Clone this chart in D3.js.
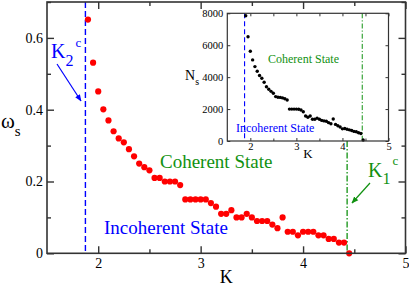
<!DOCTYPE html>
<html><head><meta charset="utf-8">
<script src="https://cdn.jsdelivr.net/npm/d3@7"></script>
<style>html,body{margin:0;padding:0;background:#fff;}svg{display:block;}</style>
</head><body>
<script>
// ---- data ----
const K = [1.90,1.95,2.00,2.05,2.10,2.15,2.20,2.25,2.30,2.35,2.40,2.45,2.50,2.55,2.60,2.65,2.70,2.75,2.80,2.85,2.90,2.95,3.00,3.05,3.10,3.15,3.20,3.25,3.30,3.35,3.40,3.45,3.50,3.55,3.60,3.65,3.70,3.75,3.80,3.85,3.90,3.95,4.00,4.05,4.10,4.15,4.20,4.25,4.30,4.35,4.40,4.45];
const omega = [0.651,0.531,0.451,0.401,0.370,0.340,0.320,0.309,0.290,0.270,0.250,0.240,0.231,0.210,0.210,0.200,0.200,0.200,0.190,0.150,0.150,0.150,0.150,0.150,0.140,0.130,0.110,0.110,0.120,0.100,0.100,0.110,0.100,0.090,0.090,0.090,0.080,0.070,0.100,0.060,0.060,0.050,0.060,0.060,0.060,0.050,0.050,0.040,0.040,0.030,0.030,0.000];
const Ns = [7850,6530,5620,5080,4660,4370,4100,3930,3680,3400,3240,3110,2990,2780,2740,2730,2700,2650,2570,2000,2000,2000,2000,1990,1940,1835,1565,1485,1565,1360,1360,1430,1360,1290,1260,1240,1150,1080,1380,1040,960,880,760,780,740,700,660,600,580,520,470,60];
const K2c = 1.875, K1c = 4.43;
const xMajor = [2,3,4,5], xMinor = [2.5,3.5,4.5];
const yMajor = [0,0.2,0.4,0.6], yMinor = [0.1,0.3,0.5,0.7];
const insetXMajor = [2,3,4,5], insetXMinor = [2.5,3.5,4.5];
const insetYMajor = [0,2000,4000,6000,8000];

const W = 409, H = 286;
const serif = "'Liberation Serif','DejaVu Serif',serif";
const RED = "#ff0000", BLUE = "#0000ff", GREEN = "#119111", FRAME = "#333";

const svg = d3.select("body").append("svg").attr("width", W).attr("height", H);
svg.append("rect").attr("width", W).attr("height", H).attr("fill", "#fff");
const defs = svg.append("defs");
function marker(id, col){
  defs.append("marker").attr("id", id).attr("viewBox","0 0 10 10").attr("refX",9).attr("refY",5)
    .attr("markerWidth",7).attr("markerHeight",7).attr("orient","auto").attr("markerUnits","userSpaceOnUse")
    .append("path").attr("d","M0,1L10,5L0,9Z").attr("fill", col);
}
marker("arB", BLUE); marker("arG", GREEN);

// ---- main plot ----
const x = d3.scaleLinear().domain([1.5,5]).range([47,405.5]);
const y = d3.scaleLinear().domain([0,0.7]).range([253.3,2]);

function styleAxis(g, fs){
  g.select(".domain").remove();
  g.selectAll("line").attr("stroke", FRAME).attr("stroke-width", 1.4);
  g.selectAll("text").attr("font-family", serif).attr("font-size", fs).attr("fill", "#000");
}
const y0 = y(0), y1 = y(0.7), x0 = x(1.5), x1 = x(5);
svg.append("g").attr("transform",`translate(0,${y0})`).call(d3.axisBottom(x).tickValues(xMajor).tickSize(-7).tickPadding(5).tickFormat(d3.format("d"))).call(g=>styleAxis(g,14));
svg.append("g").attr("transform",`translate(0,${y0})`).call(d3.axisBottom(x).tickValues(xMinor).tickSize(-4).tickFormat("")).call(g=>styleAxis(g,14));
svg.append("g").attr("transform",`translate(0,${y1})`).call(d3.axisTop(x).tickValues(xMajor).tickSize(-7).tickFormat("")).call(g=>styleAxis(g,14));
svg.append("g").attr("transform",`translate(0,${y1})`).call(d3.axisTop(x).tickValues(xMinor).tickSize(-4).tickFormat("")).call(g=>styleAxis(g,14));
svg.append("g").attr("transform",`translate(${x0},0)`).call(d3.axisLeft(y).tickValues(yMajor).tickSize(-7).tickPadding(4).tickFormat(d=>d===0?"0":d3.format(".1f")(d))).call(g=>styleAxis(g,14));
svg.append("g").attr("transform",`translate(${x0},0)`).call(d3.axisLeft(y).tickValues(yMinor).tickSize(-4).tickFormat("")).call(g=>styleAxis(g,14));
svg.append("g").attr("transform",`translate(${x1},0)`).call(d3.axisRight(y).tickValues(yMajor).tickSize(-7).tickFormat("")).call(g=>styleAxis(g,14));
svg.append("g").attr("transform",`translate(${x1},0)`).call(d3.axisRight(y).tickValues(yMinor).tickSize(-4).tickFormat("")).call(g=>styleAxis(g,14));

// ---- inset scales (needed for clipping the main green line) ----
const ix = d3.scaleLinear().domain([1.5,5]).range([227.3,388.5]);
const iy = d3.scaleLinear().domain([0,8000]).range([141,13.3]);
const iy0 = iy(0), iy1 = iy(8000), ix0 = ix(1.5), ix1 = ix(5);

// critical lines
svg.append("line").attr("x1",x(K2c)).attr("x2",x(K2c)).attr("y1",y1).attr("y2",y0)
  .attr("stroke",BLUE).attr("stroke-width",1.4).attr("stroke-dasharray","6,3");
svg.append("line").attr("x1",x(K1c)).attr("x2",x(K1c)).attr("y1",iy0).attr("y2",y0)
  .attr("stroke",GREEN).attr("stroke-width",1.3).attr("stroke-dasharray","6,2,1.5,2");

// points
svg.append("g").selectAll("circle").data(K).join("circle")
  .attr("cx",(d)=>x(d)).attr("cy",(d,i)=>y(omega[i])).attr("r",3.1).attr("fill",RED);

svg.append("rect").attr("x",x0).attr("y",y1).attr("width",x1-x0).attr("height",y0-y1)
  .attr("fill","none").attr("stroke",FRAME).attr("stroke-width",1.6);

// axis labels
svg.append("text").attr("x",(x0+x1)/2).attr("y",283).attr("text-anchor","middle")
  .attr("font-family",serif).attr("font-size",18).text("K");
const wl = svg.append("text").attr("x",1).attr("y",128).attr("font-family",serif).attr("font-size",21);
wl.append("tspan").text("ω");
wl.append("tspan").attr("font-size",15).attr("dy",8).text("s");

// annotations
svg.append("text").attr("x",160).attr("y",168).attr("font-family",serif).attr("font-size",19).attr("fill",GREEN).text("Coherent State");
svg.append("text").attr("x",104).attr("y",234).attr("font-family",serif).attr("font-size",19).attr("fill",BLUE).text("Incoherent State");

const k2 = svg.append("text").attr("x",51).attr("y",58).attr("font-family",serif).attr("font-size",20).attr("fill",BLUE);
k2.append("tspan").text("K");
k2.append("tspan").attr("font-size",16).attr("dy",8).text("2");
k2.append("tspan").attr("font-size",13).attr("dx",2).attr("dy",-19).text("c");
svg.append("line").attr("x1",57).attr("y1",64).attr("x2",81).attr("y2",101).attr("stroke",BLUE).attr("stroke-width",1.2).attr("marker-end","url(#arB)");

const k1 = svg.append("text").attr("x",368).attr("y",177).attr("font-family",serif).attr("font-size",20).attr("fill",GREEN);
k1.append("tspan").text("K");
k1.append("tspan").attr("font-size",16).attr("dy",7).text("1");
k1.append("tspan").attr("font-size",13).attr("dx",2).attr("dy",-19).text("c");
svg.append("line").attr("x1",370).attr("y1",183).attr("x2",352).attr("y2",203).attr("stroke",GREEN).attr("stroke-width",1.2).attr("marker-end","url(#arG)");

// ---- inset ----
const ig = svg.append("g");
ig.append("rect").attr("x",ix0).attr("y",iy1).attr("width",ix1-ix0).attr("height",iy0-iy1).attr("fill","#fff");
ig.append("g").attr("transform",`translate(0,${iy0})`).call(d3.axisBottom(ix).tickValues(insetXMajor).tickSize(-3).tickPadding(2).tickFormat(d3.format("d"))).call(g=>styleAxis(g,10.5));
ig.append("g").attr("transform",`translate(0,${iy0})`).call(d3.axisBottom(ix).tickValues(insetXMinor).tickSize(-2.5).tickFormat("")).call(g=>styleAxis(g,10.5));
ig.append("g").attr("transform",`translate(0,${iy1})`).call(d3.axisTop(ix).tickValues(insetXMajor.concat(insetXMinor)).tickSize(-3).tickFormat("")).call(g=>styleAxis(g,10.5));
ig.append("g").attr("transform",`translate(${ix0},0)`).call(d3.axisLeft(iy).tickValues(insetYMajor).tickSize(-3).tickPadding(4).tickFormat(d3.format("d"))).call(g=>styleAxis(g,10.5));
ig.append("g").attr("transform",`translate(${ix1},0)`).call(d3.axisRight(iy).tickValues(insetYMajor).tickSize(-3).tickFormat("")).call(g=>styleAxis(g,10.5));
ig.selectAll("line").attr("stroke-width",1);

ig.append("line").attr("x1",ix(K2c)).attr("x2",ix(K2c)).attr("y1",iy1).attr("y2",iy0)
  .attr("stroke",BLUE).attr("stroke-width",1.1).attr("stroke-dasharray","5,3");
ig.append("line").attr("x1",ix(K1c)).attr("x2",ix(K1c)).attr("y1",iy1).attr("y2",iy0)
  .attr("stroke",GREEN).attr("stroke-width",1).attr("stroke-dasharray","5,2,1.2,2");
ig.append("g").selectAll("circle").data(K).join("circle")
  .attr("cx",d=>ix(d)).attr("cy",(d,i)=>iy(Ns[i])).attr("r",1.7).attr("fill","#000");
ig.append("rect").attr("x",ix0).attr("y",iy1).attr("width",ix1-ix0).attr("height",iy0-iy1)
  .attr("fill","none").attr("stroke",FRAME).attr("stroke-width",1.2);

ig.append("text").attr("x",(ix0+ix1)/2).attr("y",158).attr("text-anchor","middle").attr("font-family",serif).attr("font-size",13).text("K");
const nl = ig.append("text").attr("x",185).attr("y",80).attr("font-family",serif).attr("font-size",14);
nl.append("tspan").text("N");
nl.append("tspan").attr("font-size",10).attr("dy",5).text("s");
ig.append("text").attr("x",268).attr("y",63).attr("font-family",serif).attr("font-size",12).attr("fill",GREEN).text("Coherent State");
ig.append("text").attr("x",236).attr("y",132).attr("font-family",serif).attr("font-size",12).attr("fill",BLUE).text("Incoherent State");
</script>
</body></html>
